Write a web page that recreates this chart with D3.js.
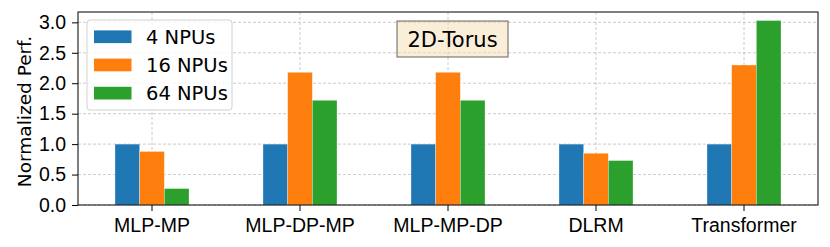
<!DOCTYPE html>
<html>
<head>
<meta charset="utf-8">
<script src="https://cdn.jsdelivr.net/npm/d3@7"></script>
<style>
  body { margin: 0; background: #fff; }
  svg { display: block; font-family: "DejaVu Sans", sans-serif; }
</style>
</head>
<body>
<script>
const categories = ['MLP-MP', 'MLP-DP-MP', 'MLP-MP-DP', 'DLRM', 'Transformer']
const seriesNames = ['4 NPUs', '16 NPUs', '64 NPUs']
const npu4 = [1.0, 1.0, 1.0, 1.0, 1.0]
const npu16 = [0.88, 2.18, 2.18, 0.85, 2.30]
const npu64 = [0.27, 1.72, 1.72, 0.73, 3.03]
const yTicks = [0, 0.5, 1.0, 1.5, 2.0, 2.5, 3.0]
const colors = ['#1f77b4', '#ff7f0e', '#2ca02c']

let width = 830
let height = 247
let margin = { top: 12, bottom: 42, left: 78, right: 12 }

const svg = d3.select('body')
  .append('svg')
  .attr('width', width)
  .attr('height', height)

const x = d3.scaleBand()
  .domain(categories)
  .range([margin.left, width - margin.right])
  .paddingInner(0).paddingOuter(0)

const xSub = d3.scaleBand()
  .domain(seriesNames)
  .range([x.bandwidth() * 0.25, x.bandwidth() * 0.75])

const y = d3.scaleLinear()
  .domain([0, 3.17])
  .range([height - margin.bottom, margin.top])

const rows = categories.map((c, i) => ({ cat: c, vals: [npu4[i], npu16[i], npu64[i]] }))

// grid
const grid = svg.append('g')
grid.selectAll('.hgrid')
  .data(yTicks)
  .join('line')
  .attr('x1', margin.left).attr('x2', width - margin.right)
  .attr('y1', d => y(d)).attr('y2', d => y(d))
  .style('stroke', '#b0b0b0').style('stroke-width', 0.8)
  .style('stroke-dasharray', '3,2').style('opacity', 0.8)
grid.selectAll('.vgrid')
  .data(categories)
  .join('line')
  .attr('x1', d => x(d) + x.bandwidth() / 2).attr('x2', d => x(d) + x.bandwidth() / 2)
  .attr('y1', margin.top).attr('y2', height - margin.bottom)
  .style('stroke', '#b0b0b0').style('stroke-width', 0.8)
  .style('stroke-dasharray', '3,2').style('opacity', 0.8)

// bars
svg.selectAll('.grp')
  .data(rows)
  .join('g')
  .attr('transform', d => `translate(${x(d.cat)},0)`)
  .selectAll('rect')
  .data(d => d.vals.map((v, j) => ({ name: seriesNames[j], value: v, j })))
  .join('rect')
  .attr('x', d => xSub(d.name))
  .attr('width', xSub.bandwidth())
  .attr('y', d => y(d.value))
  .attr('height', d => y(0) - y(d.value))
  .style('fill', d => colors[d.j])
  .style('stroke', 'rgba(255,255,255,0.5)')
  .style('stroke-width', 0.6)

// axes
const xAxis = svg.append('g')
  .attr('transform', `translate(0,${height - margin.bottom})`)
  .call(d3.axisBottom(x).tickSize(6).tickPadding(7))
xAxis.selectAll('text').style('font-size', '19.5px').style('fill', '#000')

const yAxis = svg.append('g')
  .attr('transform', `translate(${margin.left},0)`)
  .call(d3.axisLeft(y).tickValues(yTicks).tickFormat(d3.format('.1f')).tickSize(6).tickPadding(6))
yAxis.selectAll('text').style('font-size', '19.5px').style('fill', '#000')
svg.selectAll('.domain').remove()
svg.selectAll('.tick line').style('stroke', '#000').style('stroke-width', 1)

// frame
svg.append('rect')
  .attr('x', margin.left).attr('y', margin.top)
  .attr('width', width - margin.left - margin.right)
  .attr('height', height - margin.top - margin.bottom)
  .style('fill', 'none').style('stroke', '#000').style('stroke-width', 1)

// y label
svg.append('text')
  .attr('transform', `translate(31,${(margin.top + height - margin.bottom) / 2 + 3}) rotate(-90)`)
  .attr('text-anchor', 'middle')
  .style('font-size', '18.5px')
  .text('Normalized Perf.')

// legend
const leg = svg.append('g').attr('transform', 'translate(87,20)')
leg.append('rect')
  .attr('width', 145).attr('height', 90).attr('rx', 3)
  .style('fill', 'rgba(255,255,255,0.8)').style('stroke', '#d0d0d0').style('stroke-width', 1)
const legendItem = leg.selectAll('.legend-item')
  .data(seriesNames)
  .join('g')
  .attr('class', 'legend-item')
  .attr('transform', (d, i) => `translate(7,${16.7 + i * 28.2})`)
legendItem.append('rect')
  .attr('y', -6.3).attr('width', 37.5).attr('height', 12.7)
  .style('fill', (d, i) => colors[i])
legendItem.append('text')
  .attr('x', 52).attr('y', 7)
  .style('font-size', '19.5px')
  .text(d => d)

// title box
const tb = svg.append('g').attr('transform', 'translate(397,21)')
tb.append('rect')
  .attr('width', 111).attr('height', 36)
  .style('fill', 'rgba(245,222,179,0.5)').style('stroke', 'rgba(0,0,0,0.5)').style('stroke-width', 1.2)
tb.append('text')
  .attr('x', 55.5).attr('y', 26)
  .attr('text-anchor', 'middle')
  .style('font-size', '21px')
  .text('2D-Torus')
</script>
</body>
</html>
